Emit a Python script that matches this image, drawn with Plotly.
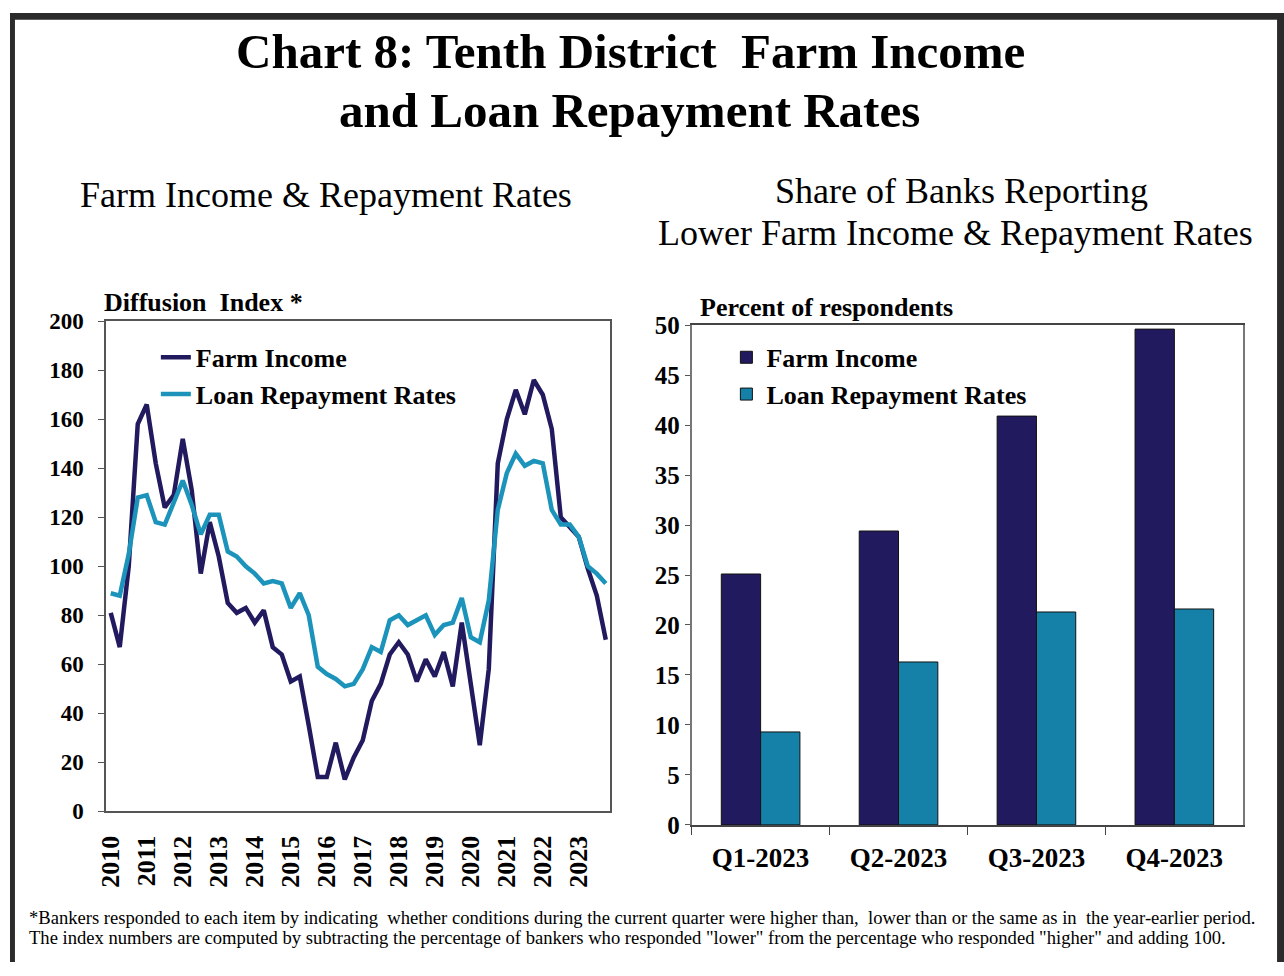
import plotly.graph_objects as go

W, H = 1284, 976

# ---------------- data ----------------
years = [str(y) for y in range(2010, 2024)]
quarters = [f"{y}Q{q}" for y in range(2010, 2024) for q in range(1, 5)]

farm_income = [
    81, 67, 100, 158,      # 2010
    166, 142, 124, 129,    # 2011
    152, 131, 97, 118,     # 2012
    104, 85, 81, 83,       # 2013
    77, 82, 67, 64,        # 2014
    53, 55, 35, 14,        # 2015
    14, 28, 13, 22,        # 2016
    29, 45, 52, 64,        # 2017
    69, 64, 53, 62,        # 2018
    55, 65, 51, 77,        # 2019
    52, 27, 58, 142,       # 2020
    160, 172, 162, 176,    # 2021
    170, 156, 120, 116,    # 2022
    112, 99, 88, 70,       # 2023
]
loan_repayment = [
    89, 88, 105, 128,      # 2010
    129, 118, 117, 126,    # 2011
    135, 125, 113, 121,    # 2012
    121, 106, 104, 100,    # 2013
    97, 93, 94, 93,        # 2014
    83, 89, 80, 59,        # 2015
    56, 54, 51, 52,        # 2016
    58, 67, 65, 78,        # 2017
    80, 76, 78, 80,        # 2018
    72, 76, 77, 87,        # 2019
    71, 69, 86, 123,       # 2020
    138, 146, 141, 143,    # 2021
    142, 123, 117, 117,    # 2022
    112, 100, 97, 93,      # 2023
]

bar_categories = ["Q1-2023", "Q2-2023", "Q3-2023", "Q4-2023"]
bar_farm_income = [25.1, 29.4, 40.9, 49.6]
bar_loan_repayment = [9.3, 16.3, 21.3, 21.6]

NAVY = "#221a5e"
TEAL_LINE = "#1b93bb"
TEAL_BAR = "#1580a8"
FRAME = "#555555"
SERIF = "Liberation Serif, Times New Roman, serif"


def px_x(p):
    return p / W


def px_y(p):
    return 1 - p / H


# plot rectangles in pixels
L_X0, L_X1, L_Y0, L_Y1 = 97, 605, 317, 821
R_X0, R_X1, R_Y0, R_Y1 = 687, 1243, 321, 835

fig = go.Figure()

fig.add_trace(go.Scatter(
    x=quarters, y=farm_income, mode="lines", name="Farm Income",
    line=dict(color=NAVY, width=4.5), xaxis="x", yaxis="y"))
fig.add_trace(go.Scatter(
    x=quarters, y=loan_repayment, mode="lines", name="Loan Repayment Rates",
    line=dict(color=TEAL_LINE, width=4.5), xaxis="x", yaxis="y"))

fig.add_trace(go.Bar(
    x=bar_categories, y=bar_farm_income, name="Farm Income",
    marker=dict(color=NAVY, line=dict(color="#111111", width=1)),
    xaxis="x3", yaxis="y3", legend="legend2"))
fig.add_trace(go.Bar(
    x=bar_categories, y=bar_loan_repayment, name="Loan Repayment Rates",
    marker=dict(color=TEAL_BAR, line=dict(color="#111111", width=1)),
    xaxis="x3", yaxis="y3", legend="legend2"))

ldom_y = [px_y(L_Y1), px_y(L_Y0)]
rdom_y = [px_y(R_Y1), px_y(R_Y0)]

year_ticks = [f"{y}Q1" for y in years]
boundary_ticks = [i * 4 - 0.5 for i in range(1, 14)]

fig.update_layout(
    width=W, height=H,
    margin=dict(l=0, r=0, t=0, b=0),
    paper_bgcolor="white", plot_bgcolor="white",
    font=dict(family=SERIF, color="black"),
    showlegend=True,
    bargap=0.43, bargroupgap=0,
    xaxis=dict(
        domain=[px_x(L_X0), px_x(L_X1)], anchor="y",
        type="category", categoryorder="array", categoryarray=quarters,
        range=[-0.5, len(quarters) - 0.5],
        tickmode="array", tickvals=year_ticks, ticktext=years,
        tickangle=-90, ticks="", showgrid=False, zeroline=False,
        showline=True, linecolor=FRAME, linewidth=2, mirror=True,
        ticklabelstandoff=12,
        tickfont=dict(size=26, family=SERIF, color="black", weight="bold"),
    ),
    xaxis2=dict(
        domain=[px_x(L_X0), px_x(L_X1)], overlaying="x", anchor="free",
        position=(ldom_y[0] + ldom_y[1]) / 2,
        range=[-0.5, len(quarters) - 0.5],
        tickmode="array", tickvals=boundary_ticks, showticklabels=False,
        ticks="outside", ticklen=8, tickwidth=2, tickcolor="#444444",
        showline=True, linecolor="#444444", linewidth=2,
        showgrid=False, zeroline=False,
    ),
    yaxis=dict(
        domain=ldom_y, anchor="x",
        range=[0, 200], tickmode="array", tickvals=list(range(0, 201, 20)),
        ticks="outside", ticklen=6, tickcolor=FRAME,
        showgrid=False, zeroline=False,
        showline=True, linecolor=FRAME, linewidth=2, mirror=True,
        ticklabelstandoff=10,
        tickfont=dict(size=23, family=SERIF, color="black", weight="bold"),
    ),
    xaxis3=dict(
        domain=[px_x(R_X0), px_x(R_X1)], anchor="y3",
        type="category", tickson="boundaries",
        ticks="outside", ticklen=8, tickcolor="#444444",
        showgrid=False, zeroline=False,
        showline=True, linecolor="#444444", linewidth=2, mirror=True,
        ticklabelstandoff=8,
        tickfont=dict(size=27, family=SERIF, color="black", weight="bold"),
    ),
    yaxis3=dict(
        domain=rdom_y, anchor="x3",
        range=[0, 50], tickmode="array", tickvals=list(range(0, 51, 5)),
        ticks="outside", ticklen=5, tickcolor=FRAME,
        showgrid=False, zeroline=False,
        showline=True, linecolor="#777777", linewidth=2, mirror=True,
        ticklabelstandoff=0,
        tickfont=dict(size=25, family=SERIF, color="black", weight="bold"),
    ),
    legend=dict(
        x=px_x(147), y=px_y(330), xanchor="left", yanchor="top",
        bgcolor="rgba(0,0,0,0)", borderwidth=0,
        font=dict(size=26, family=SERIF, color="black", weight="bold"),
        itemwidth=30, tracegroupgap=0,
    ),
    legend2=dict(
        x=px_x(722), y=px_y(330), xanchor="left", yanchor="top",
        bgcolor="rgba(0,0,0,0)", borderwidth=0,
        font=dict(size=26, family=SERIF, color="black", weight="bold"),
        itemwidth=30, tracegroupgap=0,
    ),
)

annotations = [
    dict(text="<b>Chart 8: Tenth District  Farm Income</b>", x=px_x(625), y=px_y(40),
         font=dict(size=49, family=SERIF, color="black")),
    dict(text="<b>and Loan Repayment Rates</b>", x=px_x(624), y=px_y(100),
         font=dict(size=49, family=SERIF, color="black")),
    dict(text="Farm Income & Repayment Rates", x=px_x(318), y=px_y(187),
         font=dict(size=36, family=SERIF, color="black")),
    dict(text="Share of Banks Reporting", x=px_x(959), y=px_y(183),
         font=dict(size=36, family=SERIF, color="black")),
    dict(text="Lower Farm Income & Repayment Rates", x=px_x(953), y=px_y(226),
         font=dict(size=36, family=SERIF, color="black")),
    dict(text="<b>Diffusion  Index *</b>", x=px_x(93), y=px_y(298), xanchor="left",
         font=dict(size=26, family=SERIF, color="black")),
    dict(text="<b>Percent of respondents</b>", x=px_x(693), y=px_y(303), xanchor="left",
         font=dict(size=26, family=SERIF, color="black")),
    dict(text="*Bankers responded to each item by indicating  whether conditions during the current quarter "
              "were higher than,  lower than or the same as in  the year-earlier period.",
         x=px_x(17), y=px_y(930), xanchor="left",
         font=dict(size=18.6, family=SERIF, color="black")),
    dict(text="The index numbers are computed by subtracting the percentage of bankers who responded "
              "\"lower\" from the percentage who responded \"higher\" and adding 100.",
         x=px_x(17), y=px_y(951), xanchor="left",
         font=dict(size=18.6, family=SERIF, color="black")),
]
for a in annotations:
    a.setdefault("xanchor", "center")
    a.update(xref="paper", yref="paper", yanchor="middle", showarrow=False)
fig.update_layout(annotations=annotations)

# dark outer frame of the picture
border = "#2b2b2b"
fig.update_layout(shapes=[
    dict(type="rect", xref="paper", yref="paper", x0=0, x1=1, y0=px_y(7), y1=1,
         fillcolor=border, line=dict(width=0), layer="above"),
    dict(type="rect", xref="paper", yref="paper", x0=0, x1=px_x(5), y0=0, y1=1,
         fillcolor=border, line=dict(width=0), layer="above"),
    dict(type="rect", xref="paper", yref="paper", x0=px_x(1277), x1=1, y0=0, y1=1,
         fillcolor=border, line=dict(width=0), layer="above"),
])

fig.write_html("out.html")
